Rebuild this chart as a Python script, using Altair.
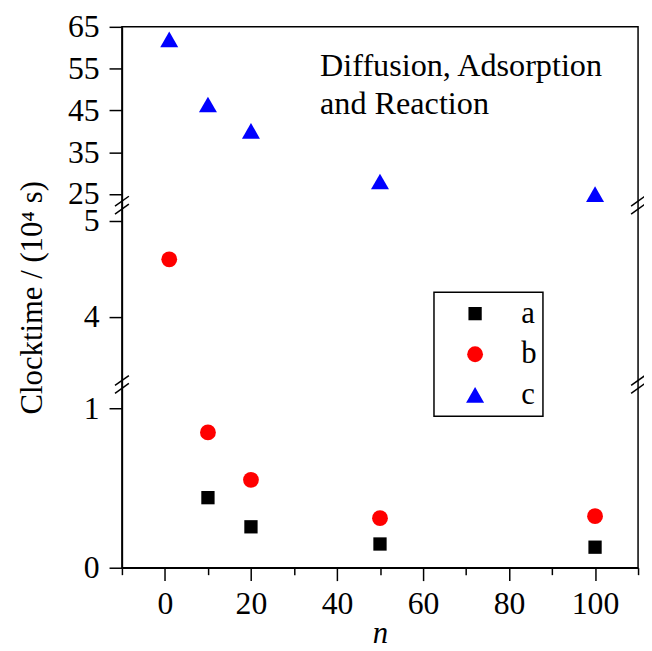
import altair as alt
import pandas as pd

# ---- data ----
series = ["a", "b", "c"]
n_a = [10, 20, 50, 100]
t_a = [0.44, 0.257, 0.149, 0.129]
n_b = [1, 10, 20, 50, 100]
t_b = [4.60, 0.85, 0.552, 0.311, 0.324]
n_c = [1, 10, 20, 50, 100]
t_c = [62.0, 46.4, 40.1, 28.0, 24.95]

x_ticks = [-10, 0, 10, 20, 30, 40, 50, 60, 70, 80, 90, 100, 110]
y_ticks = [0, 1, 4, 5, 25, 35, 45, 55, 65]

# broken y axis: three visible pieces 0-1.15, 3.29-5.17, 22.3-65
y_domain = [0, 1.151, 3.294, 5.165, 22.32, 65]
# break positions (data values lying in the collapsed gaps)
break_x = [-10, -10, 110, 110]
break_y = [2.0, 10.0, 2.0, 10.0]

colors = ["#000000", "#ff0000", "#0000ff"]
shapes = ["square", "circle", "triangle-up"]

W, H = 521, 546
y_range = [H, 361, 361, 180, 180, 0]
FONT = "Liberation Serif"

df = pd.DataFrame({
    "n": n_a + n_b + n_c,
    "clock": t_a + t_b + t_c,
    "series": ["a"] * len(n_a) + ["b"] * len(n_b) + ["c"] * len(n_c),
})
brk = pd.DataFrame({"n": break_x, "clock": break_y})

x_scale = alt.Scale(domain=[-10, 110], nice=False, zero=False)
y_scale = alt.Scale(domain=y_domain, range=y_range, nice=False, zero=False)

x_axis = alt.Axis(
    values=x_ticks,
    labelExpr="datum.value % 20 === 0 ? datum.label : ''",
    tickSize={"condition": {"test": "datum.value % 20 === 0", "value": 13}, "value": 7},
    labelPadding=8,
    labelOverlap=False,
    title="n",
    titleFontStyle="italic",
    titlePadding=-1,
)
y_axis = alt.Axis(
    values=y_ticks,
    tickSize=13,
    labelPadding=10,
    labelOverlap=False,
    title="Clocktime / (10⁴ s)",
    titlePadding=19,
)

X = alt.X("n:Q", scale=x_scale, axis=x_axis)
Y = alt.Y("clock:Q", scale=y_scale, axis=y_axis)

leg = alt.Legend(
    title=None,
    orient="none",
    legendX=315,
    legendY=268,
    padding=6,
    rowPadding=9,
    symbolOffset=20,
    labelOffset=31,
    labelFont=FONT,
    labelFontSize=31,
    labelColor="black",
    strokeColor="black",
    fillColor="white",
)

points = alt.Chart(df).mark_point(filled=True, opacity=1).encode(
    x=X,
    y=Y,
    color=alt.Color("series:N", scale=alt.Scale(domain=series, range=colors), legend=leg),
    shape=alt.Shape("series:N", scale=alt.Scale(domain=series, range=shapes), legend=leg),
    size=alt.Size("series:N", scale=alt.Scale(domain=series, range=[180, 330]), legend=leg),
)

def slash(d):
    return alt.Chart(brk).mark_rule(
        color="black", strokeWidth=1.5,
        xOffset=-7, x2Offset=7, yOffset=5 + d, y2Offset=-5 + d,
    ).encode(x=X, x2="n:Q", y=Y, y2="clock:Q")

label = alt.Chart(pd.DataFrame({"k": [0]})).mark_text(
    align="left", baseline="alphabetic", font=FONT, fontSize=32.5, lineHeight=38,
    color="black", text=["Diffusion, Adsorption", "and Reaction"],
).encode(x=alt.value(200), y=alt.value(50))

chart = alt.layer(points, slash(-4), slash(4), label).properties(
    width=W, height=H,
    autosize=alt.AutoSizeParams(type="none"),
    padding={"left": 115, "top": 16, "right": 6, "bottom": 76},
).configure_view(
    stroke="black", strokeWidth=1.5,
).configure_axis(
    grid=False,
    domainColor="black", domainWidth=1.5,
    tickColor="black", tickWidth=1.5,
    labelFont=FONT, labelFontSize=32, labelColor="black",
    titleFont=FONT, titleFontSize=31, titleFontWeight="normal", titleColor="black",
).configure_legend(
    strokeWidth=1.5,
)

chart.save("out.html", embed_options={"renderer": "svg", "actions": False})
